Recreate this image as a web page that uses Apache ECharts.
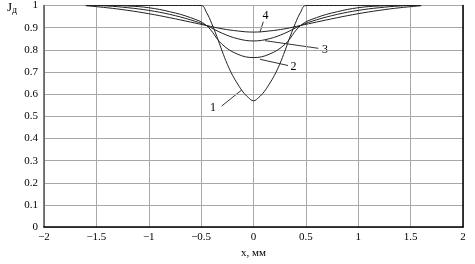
<!DOCTYPE html>
<html>
<head>
<meta charset="utf-8">
<script src="https://cdn.jsdelivr.net/npm/echarts@6/dist/echarts.min.js"></script>
<style>
    html, body { margin: 0; padding: 0; background: #fff; }
    #chart { width: 475px; height: 264px; }
</style>
</head>
<body>
<div id="chart"></div>
<script>
// значения
var x1 = [-1.6, -0.5, -0.45, -0.4, -0.35, -0.3, -0.25, -0.2, -0.15, -0.1, -0.05, 0,
          0.05, 0.1, 0.15, 0.2, 0.25, 0.3, 0.35, 0.4, 0.45, 0.5, 1.6];
var y1 = [1, 1, 0.97, 0.92, 0.86, 0.795, 0.735, 0.685, 0.645, 0.61, 0.585, 0.57,
          0.585, 0.61, 0.645, 0.685, 0.735, 0.795, 0.86, 0.92, 0.97, 1, 1];

var xs = [-1.6, -1.4, -1.2, -1.0, -0.8, -0.6, -0.45, -0.3, -0.15, 0,
          0.15, 0.3, 0.45, 0.6, 0.8, 1.0, 1.2, 1.4, 1.6];
var y2 = [1, 1, 0.998, 0.99, 0.972, 0.945, 0.91, 0.825, 0.78, 0.765,
          0.78, 0.825, 0.91, 0.945, 0.972, 0.99, 0.998, 1, 1];
var y3 = [1, 0.998, 0.99, 0.978, 0.96, 0.935, 0.91, 0.875, 0.85, 0.84,
          0.85, 0.875, 0.91, 0.935, 0.96, 0.978, 0.99, 0.998, 1];
var y4 = [0.999, 0.99, 0.978, 0.963, 0.945, 0.925, 0.91, 0.895, 0.885, 0.88,
          0.885, 0.895, 0.91, 0.925, 0.945, 0.963, 0.978, 0.99, 0.999];

var xTicks = [-2, 2, 0.5];   // min, max, шаг
var yTicks = [0, 1, 0.1];

function pairs(xx, yy) {
    return xx.map(function (v, i) { return [v, yy[i]]; });
}

function fmt(v) {
    var s = String(Math.round(v * 10) / 10);
    return s.replace('-', '\u2212');
}

var font = 'Liberation Serif';

var chart = echarts.init(document.getElementById('chart'), null, {renderer: 'canvas'});

var lineStyle = {color: '#222', width: 1};

function curve(data) {
    return {
        type: 'line',
        data: data,
        smooth: 0.4,
        symbol: 'none',
        lineStyle: lineStyle,
        animation: false
    };
}

option = {
    animation: false,
    grid: {
        left: 44,
        right: 12,
        top: 5.5,
        bottom: 34
    },
    xAxis: {
        type: 'value',
        min: xTicks[0],
        max: xTicks[1],
        interval: xTicks[2],
        name: 'x, мм',
        nameLocation: 'middle',
        nameGap: 20,
        nameTextStyle: {fontFamily: font, fontSize: 11, color: '#000'},
        axisLine: {onZero: false, lineStyle: {color: '#000', width: 1.5}},
        axisTick: {show: false},
        axisLabel: {fontFamily: font, fontSize: 11, color: '#000', margin: 5, formatter: fmt},
        splitLine: {lineStyle: {color: '#a8a8a8', width: 1}}
    },
    yAxis: [
        {
            type: 'value',
            min: yTicks[0],
            max: yTicks[1],
            interval: yTicks[2],
            axisLine: {show: true, onZero: false, lineStyle: {color: '#555', width: 1.5}},
            axisTick: {show: false},
            axisLabel: {fontFamily: font, fontSize: 11, color: '#000', margin: 6, formatter: fmt},
            splitLine: {lineStyle: {color: '#a8a8a8', width: 1}}
        },
        {
            type: 'value',
            position: 'right',
            min: yTicks[0],
            max: yTicks[1],
            axisLine: {show: true, onZero: false, lineStyle: {color: '#000', width: 1.5}},
            axisTick: {show: false},
            axisLabel: {show: false},
            splitLine: {show: false}
        }
    ],
    series: [
        curve(pairs(x1, y1)),
        curve(pairs(xs, y2)),
        curve(pairs(xs, y3)),
        curve(pairs(xs, y4))
    ],
    graphic: [
        {
            type: 'text', left: 7, top: 1,
            style: {
                text: '{j|J}{s|д}',
                rich: {
                    j: {fontFamily: font, fontSize: 13, fill: '#000'},
                    s: {fontFamily: font, fontSize: 10, fill: '#000', padding: [6, 0, 0, 0]}
                }
            }
        },
        // подписи кривых
        {type: 'text', x: 213, y: 108, style: {text: '1', fontFamily: font, fontSize: 12, fill: '#000', align: 'center', verticalAlign: 'middle'}},
        {type: 'line', shape: {x1: 221.7, y1: 106, x2: 241.7, y2: 90}, style: {stroke: '#333', lineWidth: 1}},
        {type: 'text', x: 293.5, y: 67, style: {text: '2', fontFamily: font, fontSize: 12, fill: '#000', align: 'center', verticalAlign: 'middle'}},
        {type: 'line', shape: {x1: 288, y1: 65.5, x2: 260, y2: 59.3}, style: {stroke: '#333', lineWidth: 1}},
        {type: 'text', x: 325, y: 50, style: {text: '3', fontFamily: font, fontSize: 12, fill: '#000', align: 'center', verticalAlign: 'middle'}},
        {type: 'line', shape: {x1: 318.3, y1: 48.3, x2: 265, y2: 40.7}, style: {stroke: '#333', lineWidth: 1}},
        {type: 'text', x: 265.5, y: 16, style: {text: '4', fontFamily: font, fontSize: 12, fill: '#000', align: 'center', verticalAlign: 'middle'}},
        {type: 'line', shape: {x1: 263.3, y1: 21.7, x2: 260, y2: 32.3}, style: {stroke: '#333', lineWidth: 1}}
    ]
};

chart.setOption(option);
</script>
</body>
</html>
